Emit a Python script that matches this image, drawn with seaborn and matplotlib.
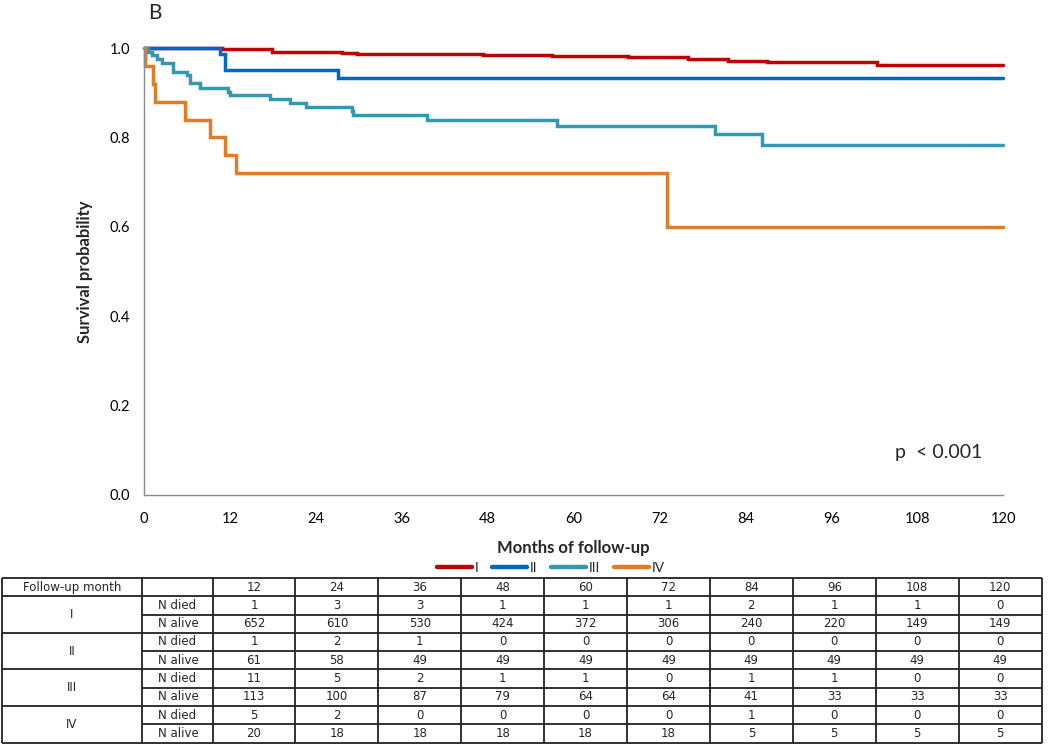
import numpy as np
import pandas as pd
import matplotlib
matplotlib.use("Agg")
import matplotlib.pyplot as plt
import seaborn as sns
from matplotlib.lines import Line2D

# ---------------- data ----------------
groups = ["I", "II", "III", "IV"]
I_times = [0, 10.9, 17.9, 27.6, 29.7, 47.3, 57.0, 67.6, 76.0, 81.6, 87.0, 102.4, 120]
I_surv = [1.0, 0.997, 0.992, 0.989, 0.986, 0.984, 0.982, 0.979, 0.975, 0.972, 0.968, 0.962, 0.962]
II_times = [0, 10.6, 11.3, 27.1, 120]
II_surv = [1.0, 0.986, 0.951, 0.932, 0.932]
III_times = [0, 0.6, 1.1, 1.8, 2.5, 4.1, 6.0, 6.4, 7.8, 11.8, 12.0, 17.6, 20.4, 22.7,
             29.0, 29.2, 39.6, 57.7, 79.8, 86.3, 120]
III_surv = [1.0, 0.992, 0.985, 0.975, 0.966, 0.947, 0.94, 0.921, 0.91, 0.902, 0.895,
            0.885, 0.878, 0.869, 0.858, 0.85, 0.839, 0.825, 0.807, 0.783, 0.783]
IV_times = [0, 0.2, 1.3, 1.5, 5.7, 9.2, 11.3, 12.9, 73.0, 120]
IV_surv = [1.0, 0.96, 0.92, 0.88, 0.84, 0.80, 0.76, 0.72, 0.60, 0.60]

x_ticks = [0, 12, 24, 36, 48, 60, 72, 84, 96, 108, 120]
y_ticks = [0.0, 0.2, 0.4, 0.6, 0.8, 1.0]

table_months = [12, 24, 36, 48, 60, 72, 84, 96, 108, 120]
I_died = [1, 3, 3, 1, 1, 1, 2, 1, 1, 0]
I_alive = [652, 610, 530, 424, 372, 306, 240, 220, 149, 149]
II_died = [1, 2, 1, 0, 0, 0, 0, 0, 0, 0]
II_alive = [61, 58, 49, 49, 49, 49, 49, 49, 49, 49]
III_died = [11, 5, 2, 1, 1, 0, 1, 1, 0, 0]
III_alive = [113, 100, 87, 79, 64, 64, 41, 33, 33, 33]
IV_died = [5, 2, 0, 0, 0, 0, 1, 0, 0, 0]
IV_alive = [20, 18, 18, 18, 18, 18, 5, 5, 5, 5]

colors = ["#C00000", "#0068C0", "#3399B3", "#E07B2A"]

# ---------------- figure ----------------
sns.set_theme(style="white")
plt.rcParams["font.family"] = ["Lato", "DejaVu Sans"]

fig = plt.figure(figsize=(10.5, 7.44), dpi=100)
W, H = 1050, 744
ax = fig.add_axes([144 / W, 1 - 495 / H, (1003 - 144) / W, (495 - 48) / H])

frames = []
for g, t, s in zip(groups, [I_times, II_times, III_times, IV_times],
                   [I_surv, II_surv, III_surv, IV_surv]):
    frames.append(pd.DataFrame({"month": t, "surv": s, "group": g}))
df = pd.concat(frames, ignore_index=True)

sns.lineplot(data=df, x="month", y="surv", hue="group", hue_order=groups,
             palette=colors, drawstyle="steps-post", estimator=None, sort=False,
             linewidth=2.5, ax=ax, legend=False)
for ln in ax.lines:
    ln.set_clip_on(False)
    ln.set_solid_joinstyle("miter")

ax.set_xlim(0, 120)
ax.set_ylim(0, 1.0)
ax.set_xticks(x_ticks)
ax.set_xticklabels([str(v) for v in x_ticks])
ax.set_yticks(y_ticks)
ax.set_yticklabels([f"{v:.1f}" for v in y_ticks])
for sp in ["top", "right"]:
    ax.spines[sp].set_visible(False)
for sp in ["left", "bottom"]:
    ax.spines[sp].set_color("#8c8c8c")
    ax.spines[sp].set_linewidth(1.0)
ax.tick_params(axis="both", direction="out", length=4, width=1, color="#8c8c8c",
               labelsize=10.5, pad=6, labelcolor="black")
ax.tick_params(axis="x", pad=8)
ax.set_xlabel("Months of follow-up", fontsize=12, fontweight="bold", labelpad=10)
ax.set_ylabel("Survival probability", fontsize=12, fontweight="bold", labelpad=12)

ax.text(0.925, 0.095, "p  < 0.001", transform=ax.transAxes, fontsize=14,
        ha="center", va="center")
fig.text(148 / W, 1 - 13 / H, "B", fontsize=15, ha="left", va="center")

# legend
handles = [Line2D([0], [0], color=c, lw=3.2) for c in colors]
fig.legend(handles, groups, loc="center", bbox_to_anchor=(551 / W, 1 - 568 / H),
           ncol=4, frameon=False, fontsize=10, handlelength=2.5, handletextpad=0.2,
           columnspacing=1.0, borderpad=0)

# ---------------- table ----------------
tax = fig.add_axes([0, 0, 1, 1])
tax.set_xlim(0, W)
tax.set_ylim(H, 0)
tax.axis("off")

top, bot = 578, 742.5
nrows = 9
rh = (bot - top) / nrows
x0, x1, x2, xr = 2, 142, 212.5, 1041.5
cw = (xr - x2) / len(table_months)
lc = "#222222"
lw = 1.3

tax.hlines([top, bot], x0, xr, color=lc, lw=lw)
tax.vlines([x0, x1, x2, xr], top, bot, color=lc, lw=lw)
for j in range(1, len(table_months)):
    tax.vlines(x2 + j * cw, top, bot, color=lc, lw=lw)
for i in range(1, nrows):
    y = top + i * rh
    if i % 2 == 1:
        tax.hlines(y, x0, xr, color=lc, lw=lw)
    else:
        tax.hlines(y, x1, xr, color=lc, lw=lw)

fs = 8.5
tf = ["DejaVu Sans"]
tax.text((x0 + x1) / 2, top + rh / 2, "Follow-up month", ha="center", va="center",
         fontsize=fs, family=tf)
for j, m in enumerate(table_months):
    tax.text(x2 + (j + 0.5) * cw, top + rh / 2, str(m), ha="center", va="center",
             fontsize=fs, family=tf)

rows = [(I_died, I_alive), (II_died, II_alive), (III_died, III_alive), (IV_died, IV_alive)]
for k, (g, (d, a)) in enumerate(zip(groups, rows)):
    r1 = top + (1 + 2 * k) * rh
    tax.text((x0 + x1) / 2, r1 + rh, g, ha="center", va="center", fontsize=fs, family=tf)
    tax.text(x1 + 16, r1 + rh / 2, "N died", ha="left", va="center", fontsize=fs, family=tf)
    tax.text(x1 + 16, r1 + 1.5 * rh, "N alive", ha="left", va="center", fontsize=fs, family=tf)
    for j in range(len(table_months)):
        tax.text(x2 + (j + 0.5) * cw, r1 + rh / 2, str(d[j]), ha="center", va="center",
                 fontsize=fs, family=tf)
        tax.text(x2 + (j + 0.5) * cw, r1 + 1.5 * rh, str(a[j]), ha="center", va="center",
                 fontsize=fs, family=tf)

fig.savefig("out.png", dpi=100)
